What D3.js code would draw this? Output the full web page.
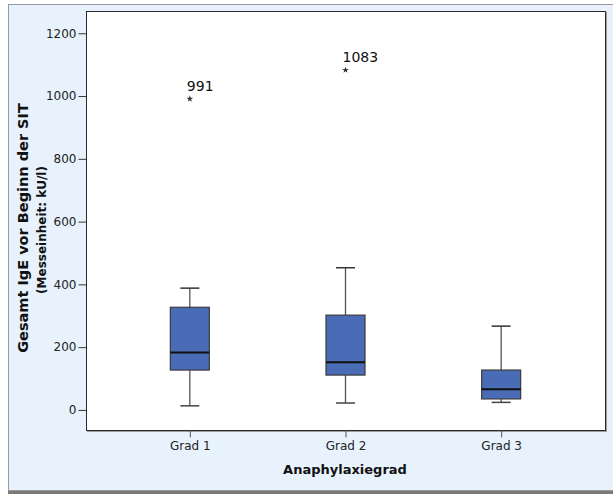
<!DOCTYPE html>
<html>
<head>
<meta charset="utf-8">
<script src="https://cdn.jsdelivr.net/npm/d3@7"></script>
<style>
  html, body { margin: 0; padding: 0; background: #ffffff; }
  svg { display: block; }
  text { font-family: "DejaVu Sans", sans-serif; }
</style>
</head>
<body>
<svg id="chart" width="613" height="495"></svg>
<script>
// Anaphylaxis grades and the box-plot summaries of total IgE (kU/l)
const categories = ["Grad 1", "Grad 2", "Grad 3"];
const whiskerLow  = [13, 22, 24];
const quartile1   = [127, 111, 35];
const medians     = [183, 152, 66];
const quartile3   = [327, 302, 127];
const whiskerHigh = [388, 453, 267];
// Extreme values, labelled with their value
const outlierGroups = ["Grad 1", "Grad 2"];
const outlierValues = [991, 1083];
const yTicks = [0, 200, 400, 600, 800, 1000, 1200];

const svg = d3.select("#chart");

// Outer panel with grey frame and bottom shadow
svg.append("rect").attr("x", 8).attr("y", 5).attr("width", 620).attr("height", 489)
  .attr("fill", "#7a7a7a");
svg.append("rect").attr("x", 8.5).attr("y", 4.5).attr("width", 620).attr("height", 486)
  .attr("fill", "#e8f2fd").attr("stroke", "#9a9a9a").attr("stroke-width", 1);

const plot = { left: 86, top: 11, right: 605, bottom: 430 };

const x = d3.scalePoint().domain(categories)
  .range([plot.left, plot.right]).padding(0.667);
const y = d3.scaleLinear().domain([-64, 1271])
  .range([plot.bottom, plot.top]);

// Plot area with a faint shadow
svg.append("rect").attr("x", plot.left + 1.5).attr("y", plot.top + 1.5)
  .attr("width", plot.right - plot.left).attr("height", plot.bottom - plot.top)
  .attr("fill", "none").attr("stroke", "#9c9c9c").attr("stroke-width", 1);
svg.append("rect").attr("x", plot.left + 0.5).attr("y", plot.top + 0.5)
  .attr("width", plot.right - plot.left).attr("height", plot.bottom - plot.top)
  .attr("fill", "#ffffff").attr("stroke", "#2b2b2b").attr("stroke-width", 1);

// Y axis
const yAxis = svg.append("g").attr("transform", `translate(${plot.left + 0.5},0)`)
  .call(d3.axisLeft(y).tickValues(yTicks).tickSize(8).tickPadding(2).tickFormat(d3.format("d")));
yAxis.select(".domain").remove();
yAxis.selectAll(".tick line").attr("stroke", "#333");
yAxis.selectAll(".tick text").attr("fill", "#222").style("font-size", "12px")
  .style("font-family", "'DejaVu Sans', sans-serif");

// X axis
const xAxis = svg.append("g").attr("transform", `translate(0,${plot.bottom + 0.5})`)
  .call(d3.axisBottom(x).tickSize(7).tickPadding(4));
xAxis.select(".domain").remove();
xAxis.selectAll(".tick line").attr("stroke", "#555");
xAxis.selectAll(".tick text").attr("fill", "#222").style("font-size", "12px")
  .style("font-family", "'DejaVu Sans', sans-serif");

// Axis titles
svg.append("text").attr("x", 345).attr("y", 474).attr("text-anchor", "middle")
  .attr("font-weight", "bold").attr("font-size", "13px").attr("fill", "#111")
  .text("Anaphylaxiegrad");
svg.append("text").attr("transform", "translate(28,228) rotate(-90)")
  .attr("text-anchor", "middle").attr("font-weight", "bold").attr("font-size", "14.5px")
  .attr("fill", "#111").text("Gesamt IgE vor Beginn der SIT");
svg.append("text").attr("transform", "translate(46,230) rotate(-90)")
  .attr("text-anchor", "middle").attr("font-weight", "bold").attr("font-size", "12px")
  .attr("fill", "#111").text("(Messeinheit: kU/l)");

// Box plots
const boxW = 39, capW = 19;
const boxes = categories.map((c, i) => ({
  c, lo: whiskerLow[i], q1: quartile1[i], med: medians[i], q3: quartile3[i], hi: whiskerHigh[i]
}));
const g = svg.append("g").selectAll("g").data(boxes).join("g")
  .attr("transform", d => `translate(${x(d.c)},0)`);

g.append("line").attr("x1", 0).attr("x2", 0)
  .attr("y1", d => y(d.hi)).attr("y2", d => y(d.q3))
  .attr("stroke", "#555").attr("stroke-width", 1.3);
g.append("line").attr("x1", 0).attr("x2", 0)
  .attr("y1", d => y(d.q1)).attr("y2", d => y(d.lo))
  .attr("stroke", "#555").attr("stroke-width", 1.3);
g.append("line").attr("x1", -capW / 2).attr("x2", capW / 2)
  .attr("y1", d => y(d.hi)).attr("y2", d => y(d.hi))
  .attr("stroke", "#333").attr("stroke-width", 1.5);
g.append("line").attr("x1", -capW / 2).attr("x2", capW / 2)
  .attr("y1", d => y(d.lo)).attr("y2", d => y(d.lo))
  .attr("stroke", "#444").attr("stroke-width", 1.5);
g.append("rect").attr("x", -boxW / 2).attr("width", boxW)
  .attr("y", d => y(d.q3)).attr("height", d => y(d.q1) - y(d.q3))
  .attr("fill", "#4a6cb6").attr("stroke", "#3a3a3a").attr("stroke-width", 1.2);
g.append("line").attr("x1", -boxW / 2).attr("x2", boxW / 2)
  .attr("y1", d => y(d.med)).attr("y2", d => y(d.med))
  .attr("stroke", "#111").attr("stroke-width", 2);

// Extreme values: star markers with value labels
const outliers = outlierGroups.map((c, i) => ({ c, v: outlierValues[i] }));
const og = svg.append("g").selectAll("g").data(outliers).join("g")
  .attr("transform", d => `translate(${x(d.c)},${y(d.v)})`);
og.append("path").attr("d", d3.symbol(d3.symbolStar, 14)).attr("fill", "#333");
og.append("text").attr("x", -3).attr("y", -8).attr("font-size", "14px").attr("fill", "#111")
  .text(d => d.v);
</script>
</body>
</html>
